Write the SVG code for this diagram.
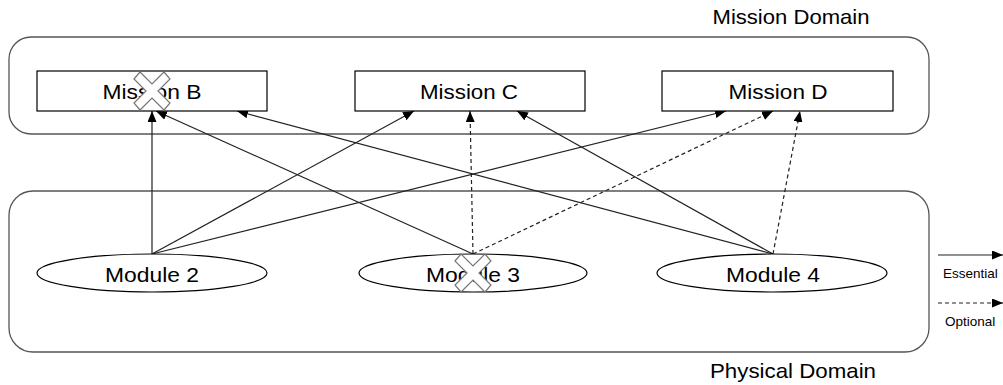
<svg xmlns="http://www.w3.org/2000/svg" width="1003" height="385" viewBox="0 0 1003 385">
<style>
.domain{fill:#fff;stroke:#555;stroke-width:1.3}
.box{fill:#fff;stroke:#000;stroke-width:1.2}
.lbl{font-family:"Liberation Sans",Arial,sans-serif;font-size:21px;fill:#000}
.leg{font-family:"Liberation Sans",Arial,sans-serif;font-size:13.5px;fill:#000}
.e{stroke:#222;stroke-width:1.2;fill:none;marker-end:url(#ah)}
.o{stroke:#222;stroke-width:1.2;fill:none;stroke-dasharray:4 3;marker-end:url(#ah)}
.x{fill:#fff;stroke:#777;stroke-width:1.2}
</style>
<defs>
<marker id="ah" viewBox="0 0 11 9" refX="11" refY="4.5" markerWidth="11" markerHeight="9" markerUnits="userSpaceOnUse" orient="auto">
<path d="M0,0 L11,4.5 L0,9 z" fill="#000"/>
</marker>
<polygon id="cross" points="-18,-12 -12,-19 0,-7 12,-19 18,-12 6,0 18,12 12,19 0,7 -12,19 -18,12 -6,0"/>
</defs>
<rect width="1003" height="385" fill="#fff"/>
<g id="mission-domain">
<rect class="domain" x="9" y="37" width="920" height="97" rx="22"/>
<text class="lbl" x="791" y="24" text-anchor="middle" textLength="157" lengthAdjust="spacingAndGlyphs">Mission Domain</text>
</g>
<g id="physical-domain">
<rect class="domain" x="9" y="191" width="920" height="161" rx="24"/>
<text class="lbl" x="793" y="378" text-anchor="middle" textLength="166" lengthAdjust="spacingAndGlyphs">Physical Domain</text>
</g>
<g id="connectors">
<line class="e" x1="152" y1="254" x2="152" y2="111"/>
<line class="e" x1="152" y1="254" x2="414" y2="111"/>
<line class="e" x1="152" y1="254" x2="726" y2="111"/>
<line class="e" x1="473" y1="254" x2="156" y2="111"/>
<line class="o" x1="473" y1="254" x2="470" y2="111"/>
<line class="o" x1="473" y1="254" x2="773" y2="111"/>
<line class="e" x1="773" y1="254" x2="237" y2="111"/>
<line class="e" x1="773" y1="254" x2="517" y2="111"/>
<line class="o" x1="773" y1="254" x2="800" y2="111"/>
</g>
<g id="mission-b">
<rect class="box" x="37" y="71" width="230" height="40"/>
<text class="lbl" x="152" y="99" text-anchor="middle" textLength="99" lengthAdjust="spacingAndGlyphs">Mission B</text>
<use href="#cross" class="x" transform="translate(152,91)"/>
</g>
<g id="mission-c">
<rect class="box" x="355" y="71" width="230" height="40"/>
<text class="lbl" x="469" y="99" text-anchor="middle" textLength="98" lengthAdjust="spacingAndGlyphs">Mission C</text>
</g>
<g id="mission-d">
<rect class="box" x="662" y="71" width="231" height="40"/>
<text class="lbl" x="778" y="99" text-anchor="middle" textLength="99" lengthAdjust="spacingAndGlyphs">Mission D</text>
</g>
<g id="module-2">
<ellipse class="box" cx="152" cy="273" rx="115" ry="19"/>
<text class="lbl" x="152" y="282" text-anchor="middle" textLength="94" lengthAdjust="spacingAndGlyphs">Module 2</text>
</g>
<g id="module-3">
<ellipse class="box" cx="473" cy="273" rx="114" ry="19"/>
<text class="lbl" x="473" y="282" text-anchor="middle" textLength="94" lengthAdjust="spacingAndGlyphs">Module 3</text>
<use href="#cross" class="x" transform="translate(473,273)"/>
</g>
<g id="module-4">
<ellipse class="box" cx="772" cy="273" rx="115" ry="19"/>
<text class="lbl" x="773" y="282" text-anchor="middle" textLength="94" lengthAdjust="spacingAndGlyphs">Module 4</text>
</g>
<g id="legend">
<line class="e" x1="938" y1="255" x2="1003" y2="255"/>
<text class="leg" x="943" y="278">Essential</text>
<line class="o" x1="938" y1="303" x2="1003" y2="303"/>
<text class="leg" x="945" y="326">Optional</text>
</g>
</svg>
